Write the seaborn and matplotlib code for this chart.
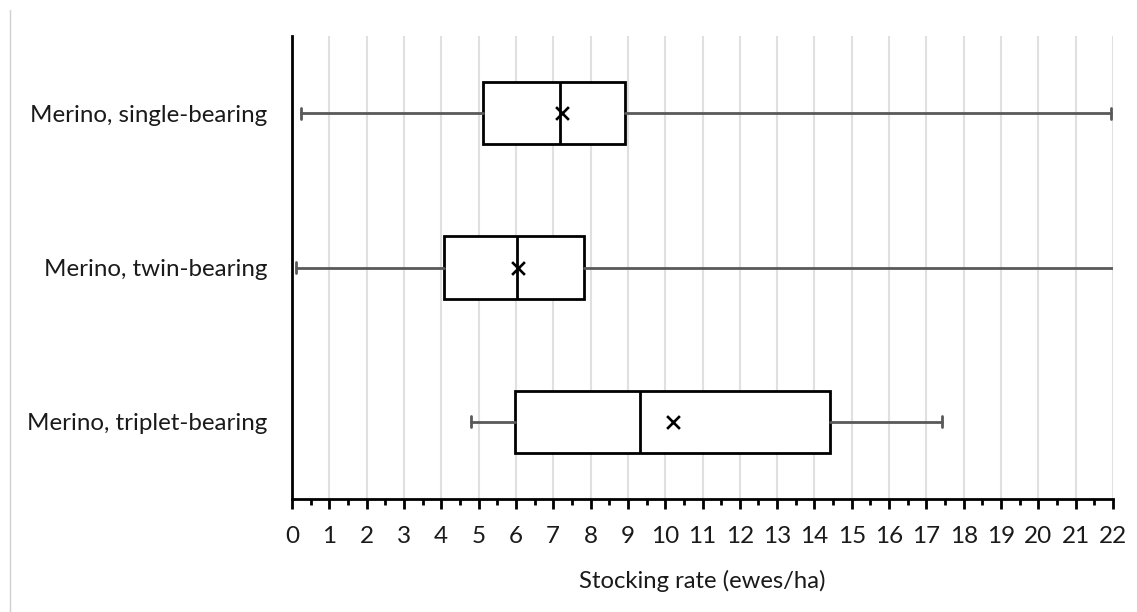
import matplotlib
matplotlib.use("Agg")
import matplotlib.pyplot as plt
from matplotlib.lines import Line2D
from matplotlib.ticker import MultipleLocator
import seaborn as sns
import pandas as pd

# Summary statistics of stocking rate (ewes/ha) per flock type
categories = ["Merino, single-bearing", "Merino, twin-bearing", "Merino, triplet-bearing"]
whisker_low = [0.24, 0.11, 4.80]
q1 = [5.13, 4.08, 5.98]
median = [7.18, 6.02, 9.32]
q3 = [8.92, 7.82, 14.42]
whisker_high = [21.95, 22.6, 17.42]
mean = [7.23, 6.06, 10.20]
x_ticks = list(range(0, 23))

sns.set_theme(style="white")
plt.rcParams["font.family"] = ["Lato", "DejaVu Sans"]

fig = plt.figure(figsize=(11.37, 6.12), dpi=100)
ax = fig.add_axes([292 / 1137, 1 - 499 / 612, (1113 - 292) / 1137, (499 - 36) / 612])

stats = [
    dict(label=c, whislo=wl, q1=a, med=m, q3=b, whishi=wh, fliers=[])
    for c, wl, a, m, b, wh in zip(categories, whisker_low, q1, median, q3, whisker_high)
]
positions = list(range(len(categories)))
ax.bxp(
    stats, positions=positions, orientation="horizontal", widths=0.405,
    capwidths=0.07, showfliers=False, patch_artist=True,
    boxprops=dict(facecolor="white", edgecolor="black", linewidth=2.0),
    medianprops=dict(color="black", linewidth=2.0),
    whiskerprops=dict(color="#595959", linewidth=2.0),
    capprops=dict(color="#595959", linewidth=2.0),
    zorder=3,
)
for artist in ax.lines + ax.patches:
    artist.set_clip_on(True)

mean_df = pd.DataFrame({"category": categories, "mean": mean, "pos": positions})
sns.scatterplot(data=mean_df, x="mean", y="pos", marker="x", s=85, color="black",
                linewidth=1.9, ax=ax, zorder=5, legend=False)

ax.set_xlim(0, 22)
ax.set_ylim(2.5, -0.5)
ax.set_xticks(x_ticks)
ax.set_xticklabels([str(t) for t in x_ticks])
ax.xaxis.set_minor_locator(MultipleLocator(0.5))
ax.set_yticks(positions)
ax.set_yticklabels(categories)
ax.set_ylabel("")
ax.set_xlabel("Stocking rate (ewes/ha)", fontsize=17.2, color="#1a1a1a", labelpad=16.5)

ax.grid(axis="x", which="major", color="#e0e0e0", linewidth=1.5, zorder=0)
ax.set_axisbelow(True)
for side in ["top", "right"]:
    ax.spines[side].set_visible(False)
for side in ["left", "bottom"]:
    ax.spines[side].set_color("black")
    ax.spines[side].set_linewidth(2.0)

ax.tick_params(axis="x", which="major", direction="out", length=7, width=2,
               color="black", labelsize=17.5, labelcolor="#1a1a1a", pad=12.5, bottom=True)
ax.tick_params(axis="x", which="minor", direction="out", length=4, width=2,
               color="black", bottom=True)
ax.tick_params(axis="y", which="both", length=0, labelsize=17.4, labelcolor="#1a1a1a", pad=18)

# thin page border on the left
fig.add_artist(Line2D([9.5 / 1137, 9.5 / 1137], [0, 1 - 10 / 612],
                      transform=fig.transFigure, color="#d0d0d0", linewidth=1.0))

fig.savefig("out.png", dpi=100, facecolor="white")
